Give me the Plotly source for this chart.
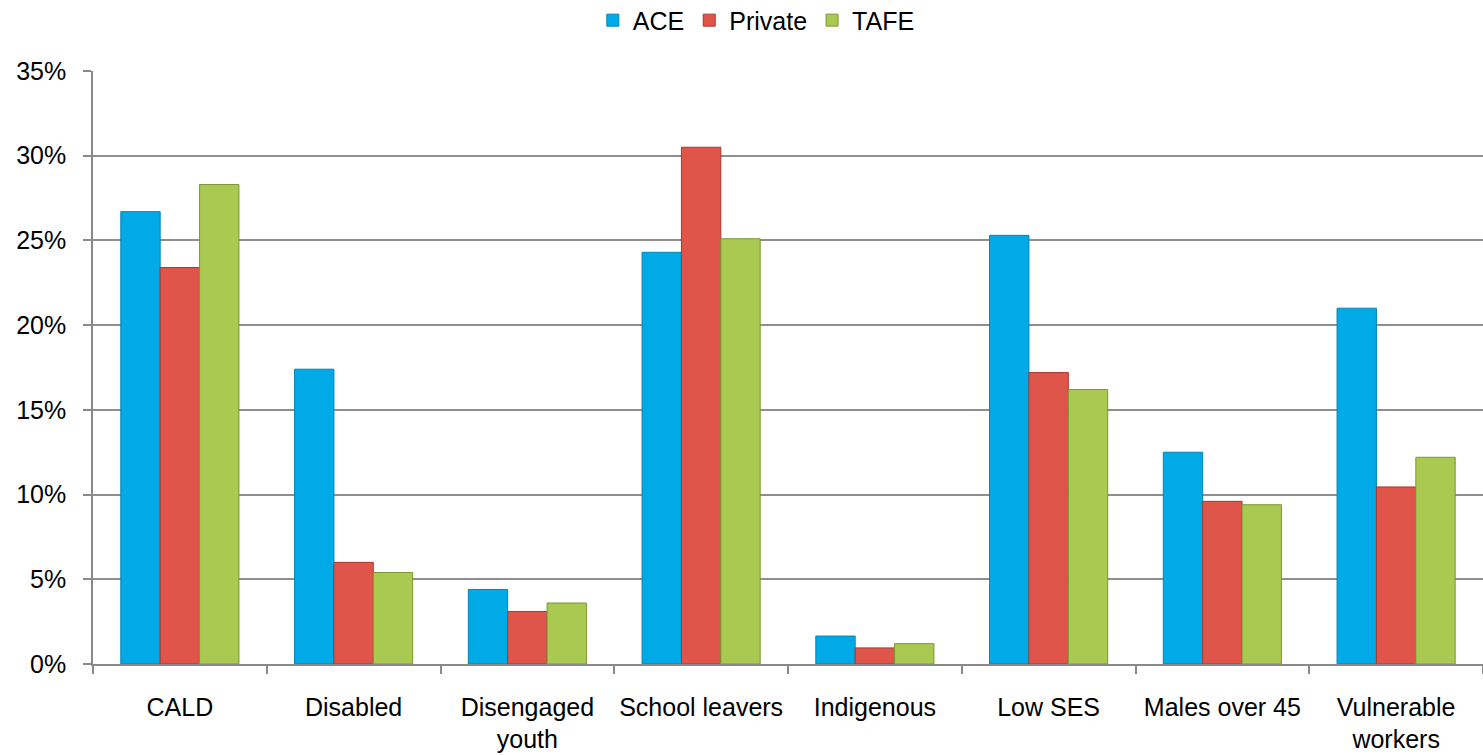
import plotly.graph_objects as go

categories = ["CALD", "Disabled", "Disengaged<br>youth", "School leavers", "Indigenous",
              "Low SES", "Males over 45", "Vulnerable<br>workers"]
ace = [26.7, 17.4, 4.4, 24.3, 1.65, 25.3, 12.5, 21.0]
private = [23.4, 6.0, 3.1, 30.5, 0.95, 17.2, 9.6, 10.45]
tafe = [28.3, 5.4, 3.6, 25.1, 1.2, 16.2, 9.4, 12.2]

series = [
    ("ACE", ace, "#00AAE6", "#0585B5"),
    ("Private", private, "#E0554A", "#A8382F"),
    ("TAFE", tafe, "#A9C950", "#7C9636"),
]

fig = go.Figure()
for name, vals, col, line in series:
    fig.add_trace(go.Bar(
        name=name, x=categories, y=vals,
        marker=dict(color=col, line=dict(color=line, width=1)),
    ))

font = "Liberation Sans, Arial, sans-serif"
fig.update_layout(
    width=1483, height=755, autosize=False,
    barmode="group", bargap=0.32, bargroupgap=0,
    plot_bgcolor="white", paper_bgcolor="white",
    margin=dict(l=93, r=0, t=71, b=91),
    font=dict(family=font, size=25, color="#000000"),
    legend=dict(orientation="h", xref="container", yref="container",
                x=0.51, xanchor="center", y=0.973, yanchor="middle",
                font=dict(size=25), itemwidth=30, traceorder="normal",
                tracegroupgap=0),
    showlegend=True,
)
fig.update_xaxes(
    type="category", showline=True, linecolor="#898989", linewidth=1.5,
    ticks="outside", tickson="boundaries", ticklen=8, tickcolor="#898989",
    tickwidth=1.5, showgrid=False, ticklabelstandoff=20,
    tickfont=dict(size=25, family=font),
)
fig.update_yaxes(
    range=[0, 35], dtick=5, ticksuffix="%", showline=True, linecolor="#898989",
    linewidth=1.5, ticks="outside", ticklen=8, tickcolor="#898989", tickwidth=1.5,
    showgrid=True, gridcolor="#8E8E8E", gridwidth=1.5, zeroline=False,
    ticklabelstandoff=12, tickfont=dict(size=25, family=font),
)
fig.write_html(
    "out.html",
    config={"responsive": False, "displayModeBar": False},
    post_script="document.body.style.margin='0px';"
                "document.body.style.overflow='hidden';"
                "Plotly.relayout('{plot_id}', {width:1483, height:755});",
)
